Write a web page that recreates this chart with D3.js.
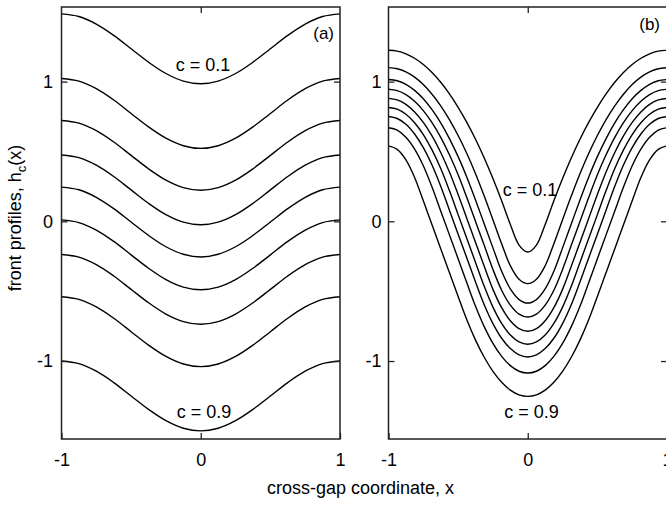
<!DOCTYPE html>
<html>
<head>
<meta charset="utf-8">
<script src="https://cdn.jsdelivr.net/npm/d3@7"></script>
<style>
  html, body { margin: 0; padding: 0; background: #fff; }
  svg { display: block; }
  text { font-family: "Liberation Sans", Arial, sans-serif; fill: #000; }
</style>
</head>
<body>
<svg id="chart" width="666" height="506"></svg>
<script>
// ---- data ----
const cLevels = [0.1, 0.2, 0.3, 0.4, 0.5, 0.6, 0.7, 0.8, 0.9];

// panel (a): x positions and front profiles h_c(x), one array per c level
const xSamplesA = [-1, -0.875, -0.75, -0.625, -0.5, -0.375, -0.25, -0.125, 0, 0.125, 0.25, 0.375, 0.5, 0.625, 0.75, 0.875, 1];
const profilesA_c01 = [1.485, 1.466, 1.412, 1.331, 1.235, 1.139, 1.058, 1.004, 0.985, 1.004, 1.058, 1.139, 1.235, 1.331, 1.412, 1.466, 1.485];
const profilesA_c02 = [1.022, 1.003, 0.949, 0.868, 0.772, 0.676, 0.595, 0.541, 0.522, 0.541, 0.595, 0.676, 0.772, 0.868, 0.949, 1.003, 1.022];
const profilesA_c03 = [0.722, 0.703, 0.649, 0.568, 0.472, 0.376, 0.295, 0.241, 0.222, 0.241, 0.295, 0.376, 0.472, 0.568, 0.649, 0.703, 0.722];
const profilesA_c04 = [0.475, 0.456, 0.402, 0.321, 0.225, 0.129, 0.048, -0.006, -0.025, -0.006, 0.048, 0.129, 0.225, 0.321, 0.402, 0.456, 0.475];
const profilesA_c05 = [0.245, 0.226, 0.172, 0.091, -0.005, -0.101, -0.182, -0.236, -0.255, -0.236, -0.182, -0.101, -0.005, 0.091, 0.172, 0.226, 0.245];
const profilesA_c06 = [0.01, -0.009, -0.063, -0.144, -0.24, -0.336, -0.417, -0.471, -0.49, -0.471, -0.417, -0.336, -0.24, -0.144, -0.063, -0.009, 0.01];
const profilesA_c07 = [-0.237, -0.256, -0.31, -0.391, -0.487, -0.583, -0.664, -0.718, -0.737, -0.718, -0.664, -0.583, -0.487, -0.391, -0.31, -0.256, -0.237];
const profilesA_c08 = [-0.54, -0.559, -0.613, -0.694, -0.79, -0.886, -0.967, -1.021, -1.04, -1.021, -0.967, -0.886, -0.79, -0.694, -0.613, -0.559, -0.54];
const profilesA_c09 = [-1.0, -1.019, -1.073, -1.154, -1.25, -1.346, -1.427, -1.481, -1.5, -1.481, -1.427, -1.346, -1.25, -1.154, -1.073, -1.019, -1.0];

// panel (b): x positions and front profiles h_c(x)
const xSamplesB = [-1, -0.9375, -0.875, -0.8125, -0.75, -0.6875, -0.625, -0.5625, -0.5, -0.4375, -0.375, -0.3125, -0.25, -0.1875, -0.125, -0.0625, 0,
                   0.0625, 0.125, 0.1875, 0.25, 0.3125, 0.375, 0.4375, 0.5, 0.5625, 0.625, 0.6875, 0.75, 0.8125, 0.875, 0.9375, 1];
const profilesB_c01 = [1.224, 1.218, 1.199, 1.167, 1.122, 1.065, 0.995, 0.912, 0.816, 0.708, 0.587, 0.453, 0.306, 0.147, -0.023, -0.170, -0.220,
                       -0.170, -0.023, 0.147, 0.306, 0.453, 0.587, 0.708, 0.816, 0.912, 0.995, 1.065, 1.122, 1.167, 1.199, 1.218, 1.224];
const profilesB_c02 = [1.100, 1.092, 1.070, 1.032, 0.979, 0.910, 0.827, 0.728, 0.614, 0.485, 0.341, 0.181, 0.011, -0.161, -0.318, -0.414, -0.446,
                       -0.414, -0.318, -0.161, 0.011, 0.181, 0.341, 0.485, 0.614, 0.728, 0.827, 0.910, 0.979, 1.032, 1.070, 1.092, 1.100];
const profilesB_c03 = [1.015, 1.006, 0.981, 0.937, 0.877, 0.799, 0.705, 0.592, 0.463, 0.316, 0.153, -0.019, -0.190, -0.358, -0.484, -0.560, -0.585,
                       -0.560, -0.484, -0.358, -0.190, -0.019, 0.153, 0.316, 0.463, 0.592, 0.705, 0.799, 0.877, 0.937, 0.981, 1.006, 1.015];
const profilesB_c04 = [0.945, 0.935, 0.907, 0.859, 0.792, 0.706, 0.601, 0.476, 0.333, 0.170, -0.001, -0.172, -0.344, -0.493, -0.600, -0.664, -0.685,
                       -0.664, -0.600, -0.493, -0.344, -0.172, -0.001, 0.170, 0.333, 0.476, 0.601, 0.706, 0.792, 0.859, 0.907, 0.935, 0.945];
const profilesB_c05 = [0.880, 0.869, 0.837, 0.783, 0.708, 0.611, 0.493, 0.353, 0.192, 0.021, -0.151, -0.322, -0.487, -0.618, -0.712, -0.768, -0.787,
                       -0.768, -0.712, -0.618, -0.487, -0.322, -0.151, 0.021, 0.192, 0.353, 0.493, 0.611, 0.708, 0.783, 0.837, 0.869, 0.880];
const profilesB_c06 = [0.815, 0.803, 0.766, 0.706, 0.621, 0.511, 0.378, 0.220, 0.048, -0.123, -0.294, -0.465, -0.614, -0.731, -0.814, -0.863, -0.880,
                       -0.863, -0.814, -0.731, -0.614, -0.465, -0.294, -0.123, 0.048, 0.220, 0.378, 0.511, 0.621, 0.706, 0.766, 0.803, 0.815];
const profilesB_c07 = [0.750, 0.736, 0.695, 0.625, 0.528, 0.403, 0.251, 0.080, -0.092, -0.263, -0.434, -0.597, -0.732, -0.837, -0.911, -0.956, -0.971,
                       -0.956, -0.911, -0.837, -0.732, -0.597, -0.434, -0.263, -0.092, 0.080, 0.251, 0.403, 0.528, 0.625, 0.695, 0.736, 0.750];
const profilesB_c08 = [0.670, 0.653, 0.602, 0.517, 0.398, 0.245, 0.074, -0.097, -0.268, -0.440, -0.608, -0.754, -0.874, -0.967, -1.033, -1.073, -1.086,
                       -1.073, -1.033, -0.967, -0.874, -0.754, -0.608, -0.440, -0.268, -0.097, 0.074, 0.245, 0.398, 0.517, 0.602, 0.653, 0.670];
const profilesB_c09 = [0.540, 0.515, 0.440, 0.314, 0.147, -0.025, -0.196, -0.367, -0.538, -0.705, -0.850, -0.973, -1.074, -1.152, -1.208, -1.242, -1.253,
                       -1.242, -1.208, -1.152, -1.074, -0.973, -0.850, -0.705, -0.538, -0.367, -0.196, -0.025, 0.147, 0.314, 0.440, 0.515, 0.540];

const xTicks = [-1, 0, 1];
const yTicks = [-1, 0, 1];
const xTickLabels = ["-1", "0", "1"];
const yTickLabels = ["-1", "0", "1"];

const panelA = [profilesA_c01, profilesA_c02, profilesA_c03, profilesA_c04, profilesA_c05, profilesA_c06, profilesA_c07, profilesA_c08, profilesA_c09];
const panelB = [profilesB_c01, profilesB_c02, profilesB_c03, profilesB_c04, profilesB_c05, profilesB_c06, profilesB_c07, profilesB_c08, profilesB_c09];

// ---- drawing ----
(function () {
const svg = d3.select("#chart");
const plotTop = 7, plotBottom = 439;
const y = d3.scaleLinear().domain([-1.558, 1.534]).range([plotBottom, plotTop]);

const panels = [
  { id: "a", data: panelA, xs: xSamplesA, x: d3.scaleLinear().domain([-1, 1]).range([61.5, 340]), ypad: 8.5,
    tag: "(a)", tagX: 334, tagY: 38.5,
    lab1: { t: "c = 0.1", x: 203, y: 70.5 }, lab9: { t: "c = 0.9", x: 204, y: 418 } },
  { id: "b", data: panelB, xs: xSamplesB, x: d3.scaleLinear().domain([-1, 1]).range([388.5, 667]), ypad: 7,
    tag: "(b)", tagX: 660, tagY: 30,
    lab1: { t: "c = 0.1", x: 530, y: 195.5 }, lab9: { t: "c = 0.9", x: 531.5, y: 418 } }
];

const tick = 6;
panels.forEach(p => {
  const g = svg.append("g");
  const x = p.x;
  const [x0, x1] = x.range();

  // curves
  const line = d3.line()
    .x((d, i) => x(p.xs[i]))
    .y(d => y(d))
    .curve(d3.curveCatmullRom.alpha(0.5));
  g.selectAll("path.curve").data(p.data).join("path")
    .attr("class", "curve")
    .attr("d", d => line(d))
    .attr("fill", "none")
    .attr("stroke", "#000")
    .attr("stroke-width", 1.4);

  // axes
  const fmtX = d => xTickLabels[xTicks.indexOf(d)];
  const fmtY = d => yTickLabels[yTicks.indexOf(d)];
  const axB = g.append("g").attr("transform", `translate(0,${plotBottom})`)
    .call(d3.axisBottom(x).tickValues(xTicks).tickFormat(fmtX).tickSizeInner(-tick).tickSizeOuter(0).tickPadding(14));
  const axT = g.append("g").attr("transform", `translate(0,${plotTop})`)
    .call(d3.axisTop(x).tickValues([0]).tickFormat("").tickSizeInner(-tick).tickSizeOuter(0));
  const axL = g.append("g").attr("transform", `translate(${x0},0)`)
    .call(d3.axisLeft(y).tickValues(yTicks).tickFormat(fmtY).tickSizeInner(-tick).tickSizeOuter(0).tickPadding(p.ypad));
  const axR = g.append("g").attr("transform", `translate(${x1},0)`)
    .call(d3.axisRight(y).tickValues(yTicks).tickFormat("").tickSizeInner(-tick).tickSizeOuter(0));
  [axB, axT, axL, axR].forEach(a => {
    a.select(".domain").remove();
    a.selectAll("line").attr("stroke", "#222").attr("stroke-width", 1.3);
    a.selectAll("text").style("font-family", '"Liberation Sans", Arial, sans-serif').style("font-size", "18px").attr("fill", "#000");
  });

  // frame
  g.append("rect")
    .attr("x", x0).attr("y", plotTop)
    .attr("width", x1 - x0).attr("height", plotBottom - plotTop)
    .attr("fill", "none").attr("stroke", "#222").attr("stroke-width", 1.5);

  // annotations
  g.append("text").attr("x", p.tagX).attr("y", p.tagY).attr("text-anchor", "end")
    .style("font-size", "17px").text(p.tag);
  [p.lab1, p.lab9].forEach(l => {
    g.append("text").attr("x", l.x).attr("y", l.y).attr("text-anchor", "middle")
      .style("font-size", "18px").text(l.t);
  });
});

// axis titles
svg.append("text").attr("x", 360.5).attr("y", 494).attr("text-anchor", "middle")
  .style("font-size", "18px").text("cross-gap coordinate, x");
const yl = svg.append("text").attr("transform", "translate(21,218) rotate(-90)")
  .attr("text-anchor", "middle").style("font-size", "18px");
yl.append("tspan").text("front profiles, h");
yl.append("tspan").attr("dy", 5).style("font-size", "13px").text("c");
yl.append("tspan").attr("dy", -5).text("(x)");
})();
</script>
</body>
</html>
